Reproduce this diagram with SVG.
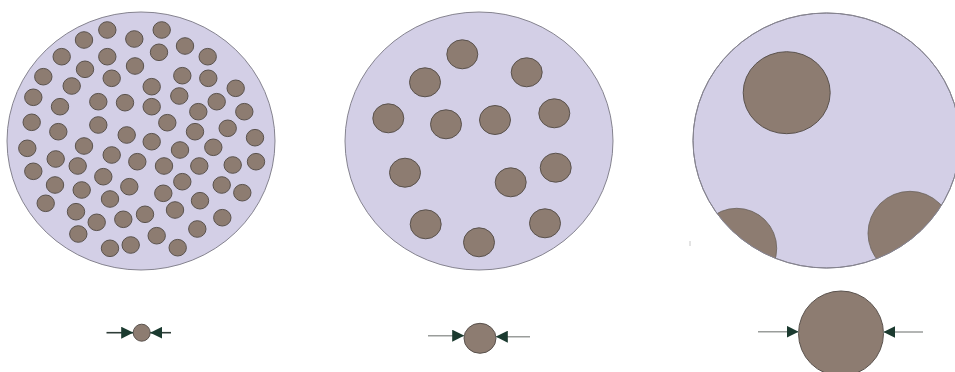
<svg xmlns="http://www.w3.org/2000/svg" width="955" height="372" viewBox="0 0 955 372">
<style>
.cell{fill:#d3cfe6;stroke:#85838f;stroke-width:1}
.p{fill:#8d7c71;stroke:#5a524d;stroke-width:1}
.pb{fill:#8d7c71;stroke:#6a625c;stroke-width:0.8}
.ln{stroke:#2f3d38;stroke-width:1.6;fill:none}
.lg{stroke:#9a9d9b;stroke-width:1.4;fill:none}
</style>
<defs>
<marker id="ah" viewBox="0 0 12 12" refX="12" refY="6" markerWidth="12" markerHeight="12" markerUnits="userSpaceOnUse" orient="auto">
<path d="M0,0 L12,6 L0,12 Z" fill="#1b3a2f"/>
</marker>
<clipPath id="c3"><ellipse cx="826.5" cy="140.5" rx="133.5" ry="127.5"/></clipPath>
</defs>
<rect width="955" height="372" fill="#ffffff"/>

<g id="cell-small-particles">
<ellipse class="cell" cx="141" cy="141" rx="134" ry="129"/>
<g>
<ellipse class="p" cx="107.3" cy="30" rx="8.7" ry="8.3"/>
<ellipse class="p" cx="161.7" cy="30" rx="8.7" ry="8.3"/>
<ellipse class="p" cx="84" cy="40" rx="8.7" ry="8.3"/>
<ellipse class="p" cx="134.3" cy="39" rx="8.7" ry="8.3"/>
<ellipse class="p" cx="185" cy="46" rx="8.7" ry="8.3"/>
<ellipse class="p" cx="61.7" cy="56.7" rx="8.7" ry="8.3"/>
<ellipse class="p" cx="107.3" cy="56.7" rx="8.7" ry="8.3"/>
<ellipse class="p" cx="159" cy="52.3" rx="8.7" ry="8.3"/>
<ellipse class="p" cx="207.7" cy="56.7" rx="8.7" ry="8.3"/>
<ellipse class="p" cx="135" cy="66" rx="8.7" ry="8.3"/>
<ellipse class="p" cx="85" cy="69.3" rx="8.7" ry="8.3"/>
<ellipse class="p" cx="43.3" cy="76.7" rx="8.7" ry="8.3"/>
<ellipse class="p" cx="111.7" cy="78.3" rx="8.7" ry="8.3"/>
<ellipse class="p" cx="182.3" cy="75.7" rx="8.7" ry="8.3"/>
<ellipse class="p" cx="208.3" cy="78.3" rx="8.7" ry="8.3"/>
<ellipse class="p" cx="71.7" cy="86" rx="8.7" ry="8.3"/>
<ellipse class="p" cx="151.7" cy="86.7" rx="8.7" ry="8.3"/>
<ellipse class="p" cx="235.7" cy="88.3" rx="8.7" ry="8.3"/>
<ellipse class="p" cx="33.3" cy="97.3" rx="8.7" ry="8.3"/>
<ellipse class="p" cx="98.3" cy="101.7" rx="8.7" ry="8.3"/>
<ellipse class="p" cx="125" cy="102.7" rx="8.7" ry="8.3"/>
<ellipse class="p" cx="151.7" cy="106.7" rx="8.7" ry="8.3"/>
<ellipse class="p" cx="179.3" cy="96" rx="8.7" ry="8.3"/>
<ellipse class="p" cx="216.7" cy="101.7" rx="8.7" ry="8.3"/>
<ellipse class="p" cx="60" cy="106.7" rx="8.7" ry="8.3"/>
<ellipse class="p" cx="198.3" cy="111.7" rx="8.7" ry="8.3"/>
<ellipse class="p" cx="244.3" cy="111.7" rx="8.7" ry="8.3"/>
<ellipse class="p" cx="31.7" cy="122.3" rx="8.7" ry="8.3"/>
<ellipse class="p" cx="98.3" cy="125" rx="8.7" ry="8.3"/>
<ellipse class="p" cx="167.3" cy="122.7" rx="8.7" ry="8.3"/>
<ellipse class="p" cx="58.3" cy="131.7" rx="8.7" ry="8.3"/>
<ellipse class="p" cx="126.7" cy="135" rx="8.7" ry="8.3"/>
<ellipse class="p" cx="195" cy="131.7" rx="8.7" ry="8.3"/>
<ellipse class="p" cx="227.7" cy="128.3" rx="8.7" ry="8.3"/>
<ellipse class="p" cx="255" cy="137.7" rx="8.7" ry="8.3"/>
<ellipse class="p" cx="27.3" cy="148.3" rx="8.7" ry="8.3"/>
<ellipse class="p" cx="84" cy="146" rx="8.7" ry="8.3"/>
<ellipse class="p" cx="151.7" cy="141.7" rx="8.7" ry="8.3"/>
<ellipse class="p" cx="111.7" cy="155" rx="8.7" ry="8.3"/>
<ellipse class="p" cx="55.7" cy="159" rx="8.7" ry="8.3"/>
<ellipse class="p" cx="180" cy="150" rx="8.7" ry="8.3"/>
<ellipse class="p" cx="213.3" cy="147.3" rx="8.7" ry="8.3"/>
<ellipse class="p" cx="33.3" cy="171.3" rx="8.7" ry="8.3"/>
<ellipse class="p" cx="77.7" cy="166" rx="8.7" ry="8.3"/>
<ellipse class="p" cx="137.3" cy="161.7" rx="8.7" ry="8.3"/>
<ellipse class="p" cx="164" cy="166" rx="8.7" ry="8.3"/>
<ellipse class="p" cx="199.3" cy="166" rx="8.7" ry="8.3"/>
<ellipse class="p" cx="232.7" cy="165" rx="8.7" ry="8.3"/>
<ellipse class="p" cx="256" cy="161.7" rx="8.7" ry="8.3"/>
<ellipse class="p" cx="103.3" cy="176.7" rx="8.7" ry="8.3"/>
<ellipse class="p" cx="55" cy="185" rx="8.7" ry="8.3"/>
<ellipse class="p" cx="81.7" cy="190" rx="8.7" ry="8.3"/>
<ellipse class="p" cx="129.3" cy="186.7" rx="8.7" ry="8.3"/>
<ellipse class="p" cx="182.3" cy="181.7" rx="8.7" ry="8.3"/>
<ellipse class="p" cx="221.7" cy="185" rx="8.7" ry="8.3"/>
<ellipse class="p" cx="242.3" cy="192.7" rx="8.7" ry="8.3"/>
<ellipse class="p" cx="163.3" cy="193.3" rx="8.7" ry="8.3"/>
<ellipse class="p" cx="110" cy="199" rx="8.7" ry="8.3"/>
<ellipse class="p" cx="45.7" cy="203.3" rx="8.7" ry="8.3"/>
<ellipse class="p" cx="200" cy="200.7" rx="8.7" ry="8.3"/>
<ellipse class="p" cx="76" cy="211.7" rx="8.7" ry="8.3"/>
<ellipse class="p" cx="175" cy="210" rx="8.7" ry="8.3"/>
<ellipse class="p" cx="145" cy="214.3" rx="8.7" ry="8.3"/>
<ellipse class="p" cx="123.3" cy="219.3" rx="8.7" ry="8.3"/>
<ellipse class="p" cx="96.7" cy="222.3" rx="8.7" ry="8.3"/>
<ellipse class="p" cx="222.3" cy="217.7" rx="8.7" ry="8.3"/>
<ellipse class="p" cx="78.3" cy="234" rx="8.7" ry="8.3"/>
<ellipse class="p" cx="156.7" cy="235.7" rx="8.7" ry="8.3"/>
<ellipse class="p" cx="197.3" cy="229" rx="8.7" ry="8.3"/>
<ellipse class="p" cx="110" cy="248.3" rx="8.7" ry="8.3"/>
<ellipse class="p" cx="130.7" cy="245" rx="8.7" ry="8.3"/>
<ellipse class="p" cx="177.7" cy="247.7" rx="8.7" ry="8.3"/>
</g>
</g>

<g id="cell-medium-particles">
<ellipse class="cell" cx="479" cy="141" rx="134" ry="129"/>
<g>
<ellipse class="p" cx="462.3" cy="54.3" rx="15.5" ry="14.5"/>
<ellipse class="p" cx="526.7" cy="72.3" rx="15.5" ry="14.5"/>
<ellipse class="p" cx="425" cy="82.3" rx="15.5" ry="14.5"/>
<ellipse class="p" cx="388.3" cy="118.3" rx="15.5" ry="14.5"/>
<ellipse class="p" cx="446" cy="124.3" rx="15.5" ry="14.5"/>
<ellipse class="p" cx="495" cy="120" rx="15.5" ry="14.5"/>
<ellipse class="p" cx="554.3" cy="113.3" rx="15.5" ry="14.5"/>
<ellipse class="p" cx="405" cy="172.7" rx="15.5" ry="14.5"/>
<ellipse class="p" cx="510.7" cy="182.3" rx="15.5" ry="14.5"/>
<ellipse class="p" cx="555.7" cy="167.7" rx="15.5" ry="14.5"/>
<ellipse class="p" cx="425.7" cy="224.3" rx="15.5" ry="14.5"/>
<ellipse class="p" cx="479" cy="242.3" rx="15.5" ry="14.5"/>
<ellipse class="p" cx="545" cy="223.3" rx="15.5" ry="14.5"/>
</g>
</g>

<g id="cell-large-particles">
<ellipse class="cell" cx="826.5" cy="140.5" rx="133.5" ry="127.5"/>
<ellipse class="p" cx="786.7" cy="92.7" rx="43.5" ry="41"/>
<g clip-path="url(#c3)">
<circle class="pb" cx="736.7" cy="248.3" r="40"/>
<circle class="pb" cx="910" cy="233.3" r="42"/>
</g>
<ellipse cx="826.5" cy="140.5" rx="133.5" ry="127.5" fill="none" stroke="#85838f" stroke-width="1"/>
<line x1="690" y1="241" x2="690" y2="246" stroke="#c8c8c8" stroke-width="1"/>
</g>

<g id="particle-small">
<circle class="p" cx="141.7" cy="332.7" r="8.5" stroke-width="0.6"/>
</g>
<g id="particle-medium">
<ellipse class="p" cx="480" cy="338.3" rx="16" ry="15"/>
</g>
<g id="particle-large">
<circle class="p" cx="841" cy="333.5" r="42.5"/>
</g>

<g id="connectors">
<line class="ln" x1="106.5" y1="332.7" x2="133.2" y2="332.7" marker-end="url(#ah)"/>
<line class="ln" x1="171" y1="332.7" x2="150.2" y2="332.7" marker-end="url(#ah)"/>
<line class="lg" x1="428" y1="335.7" x2="464.2" y2="335.7" marker-end="url(#ah)"/>
<line class="lg" x1="530" y1="336.7" x2="495.8" y2="336.7" marker-end="url(#ah)"/>
<line class="lg" x1="758" y1="331.7" x2="798.6" y2="331.7" marker-end="url(#ah)"/>
<line class="lg" x1="923" y1="332" x2="883.4" y2="332" marker-end="url(#ah)"/>
</g>
</svg>
